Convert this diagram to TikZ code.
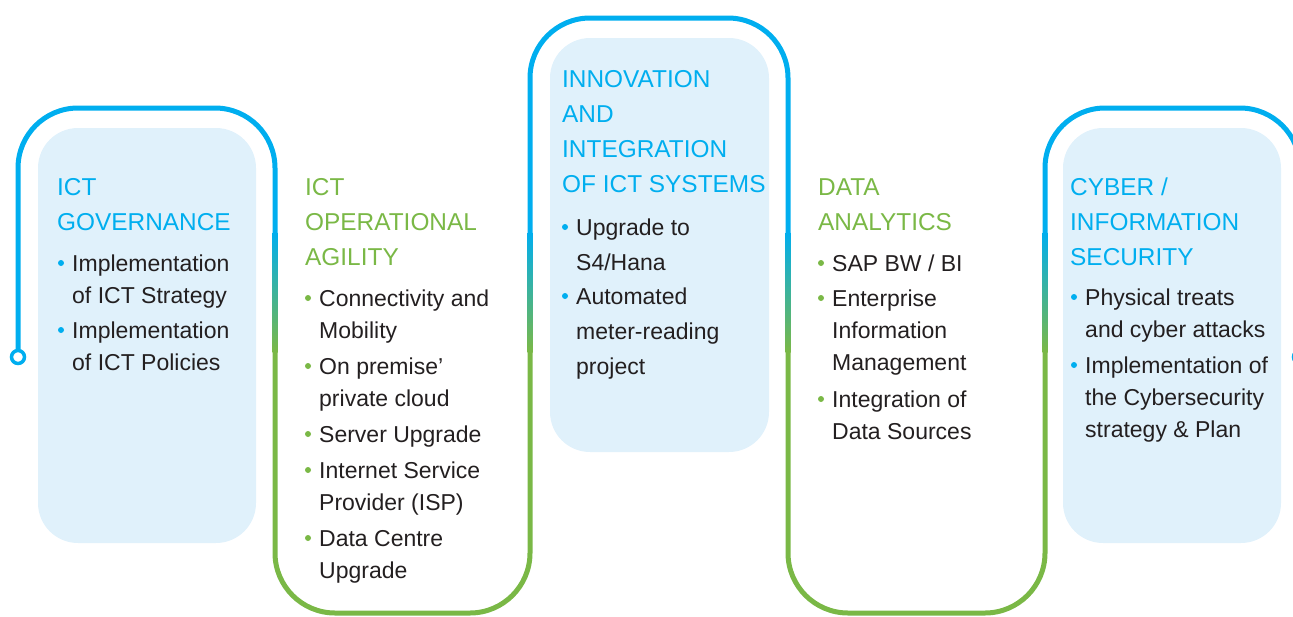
\documentclass[tikz,border=0pt]{standalone}
\usepackage{fontspec}
\setmainfont{Liberation Sans}
\usepackage{tikz}
\usetikzlibrary{positioning}

\definecolor{skyline}{RGB}{0,174,239}
\definecolor{leaf}{RGB}{122,184,70}
\definecolor{seaglass}{RGB}{0,170,155}
\definecolor{panelfill}{RGB}{224,241,251}
\definecolor{ink}{RGB}{35,31,32}

% lines hang from the first baseline
\newcommand{\colstack}[1]{\begin{tabular}[t]{@{}l@{}}#1\end{tabular}}

\begin{document}
\begin{tikzpicture}[
        x=1pt,
        y=-1pt,
        wire/.style={line width=5pt, rounded corners=60pt},
        upper/.style={wire, skyline},
        lower/.style={wire, leaf},
        panel/.style={fill=panelfill, rounded corners=40pt},
        endcap/.style={circle, draw=skyline, line width=3.5pt, fill=white, minimum size=13pt, inner sep=0pt},
        heading/.style={anchor=base west, inner sep=0pt, font=\fontsize{24.4}{35}\selectfont},
        entry/.style={anchor=base west, inner sep=0pt, text=ink, font=\fontsize{23}{32}\selectfont}
    ]
        \useasboundingbox (0,0) rectangle (1293,616);

        % light panels behind the blue columns
        \fill[panel] (38,128) rectangle (256,543);
        \fill[panel] (550,38) rectangle (769,452);
        \fill[panel] (1063,128) rectangle (1281,543);

        % the winding line
        \node[endcap] (start) at (18,357) {};
        \node[endcap] (finish) at (1300,357) {};
        \draw[upper] (start.north) -- (18,108) -- (275,108) -- (275,232);
        \draw[lower] (275,352) -- (275,613) -- (530,613) -- (530,352);
        \draw[upper] (530,232) -- (530,18) -- (788,18) -- (788,232);
        \draw[lower] (788,352) -- (788,613) -- (1045,613) -- (1045,352);
        \draw[upper] (1045,232) -- (1045,108) -- (1300,108) -- (finish.north);
        \foreach \x in {275,530,788,1045} {
            \shade[top color=skyline, middle color=seaglass, bottom color=leaf] (\x-2.5,232) rectangle (\x+2.5,352);
        }

        % column 1
        \node[heading, text=skyline] (gov) at (57,195) {\colstack{ICT\\GOVERNANCE}};
        \node[entry] (gov1) at (72,271) {\colstack{Implementation\\of ICT Strategy}};
        \node[entry] (gov2) at (72,338) {\colstack{Implementation\\of ICT Policies}};

        % column 2
        \node[heading, text=leaf] (agi) at (305,195) {\colstack{ICT\\OPERATIONAL\\AGILITY}};
        \node[entry] (agi1) at (319,306) {\colstack{Connectivity and\\Mobility}};
        \node[entry] (agi2) at (319,374) {\colstack{On premise'\\private cloud}};
        \node[entry] (agi3) at (319,442) {\colstack{Server Upgrade}};
        \node[entry] (agi4) at (319,478) {\colstack{Internet Service\\Provider (ISP)}};
        \node[entry] (agi5) at (319,546) {\colstack{Data Centre\\Upgrade}};

        % column 3
        \node[heading, text=skyline] (inn) at (562,87) {\colstack{INNOVATION\\AND\\INTEGRATION\\OF ICT SYSTEMS}};
        \node[entry, font=\fontsize{23}{35}\selectfont] (inn1) at (576,235) {\colstack{Upgrade to\\S4/Hana}};
        \node[entry, font=\fontsize{23}{35}\selectfont] (inn2) at (576,304) {\colstack{Automated\\meter-reading\\project}};

        % column 4
        \node[heading, text=leaf] (dat) at (818,195) {\colstack{DATA\\ANALYTICS}};
        \node[entry] (dat1) at (832,271) {\colstack{SAP BW / BI}};
        \node[entry] (dat2) at (832,306) {\colstack{Enterprise\\Information\\Management}};
        \node[entry] (dat3) at (832,407) {\colstack{Integration of\\Data Sources}};

        % column 5
        \node[heading, text=skyline] (sec) at (1070,195) {\colstack{CYBER /\\INFORMATION\\SECURITY}};
        \node[entry] (sec1) at (1085,305) {\colstack{Physical treats\\and cyber attacks}};
        \node[entry] (sec2) at (1085,373) {\colstack{Implementation of\\the Cybersecurity\\strategy \& Plan}};

        % bullets
        \foreach \e in {gov1,gov2,inn1,inn2,sec1,sec2} {
            \fill[skyline] ([xshift=-11pt,yshift=8pt]\e.base west) circle (3pt);
        }
        \foreach \e in {agi1,agi2,agi3,agi4,agi5,dat1,dat2,dat3} {
            \fill[leaf] ([xshift=-11pt,yshift=8pt]\e.base west) circle (3pt);
        }
    \end{tikzpicture}
\end{document}
